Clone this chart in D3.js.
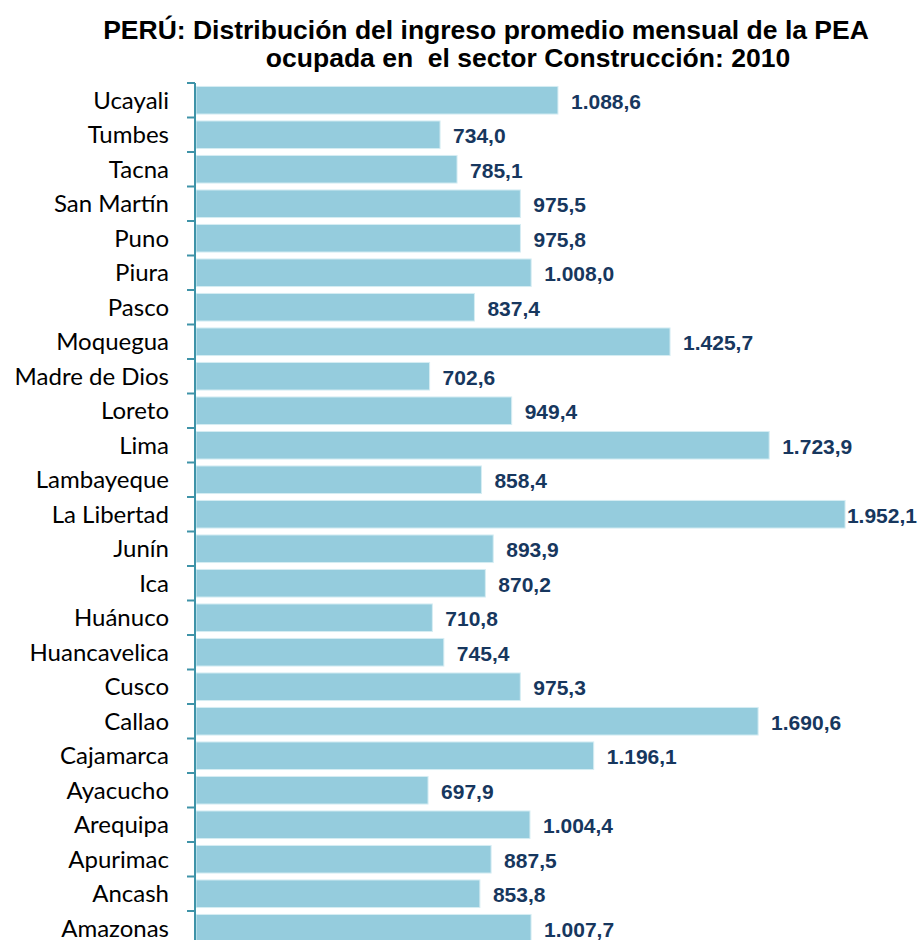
<!DOCTYPE html>
<html>
<head>
<meta charset="utf-8">
<script src="https://cdn.jsdelivr.net/npm/d3@7"></script>
<style>
  body { margin: 0; background: #fff; }
</style>
</head>
<body>
<div id="chart"></div>
<script>
const WIDTH = 918;
const HEIGHT = 940;

// Datos: ingreso promedio mensual por región (de arriba hacia abajo)
const regiones = ["Ucayali", "Tumbes", "Tacna", "San Martín", "Puno", "Piura", "Pasco",
  "Moquegua", "Madre de Dios", "Loreto", "Lima", "Lambayeque", "La Libertad", "Junín",
  "Ica", "Huánuco", "Huancavelica", "Cusco", "Callao", "Cajamarca", "Ayacucho",
  "Arequipa", "Apurimac", "Ancash", "Amazonas"];
const ingresos = [1088.6, 734.0, 785.1, 975.5, 975.8, 1008.0, 837.4,
  1425.7, 702.6, 949.4, 1723.9, 858.4, 1952.1, 893.9,
  870.2, 710.8, 745.4, 975.3, 1690.6, 1196.1, 697.9,
  1004.4, 887.5, 853.8, 1007.7];
const titulo = ["PERÚ: Distribución del ingreso promedio mensual de la PEA",
  "ocupada en  el sector Construcción: 2010"];

const datos = regiones.map((r, i) => ({ region: r, valor: ingresos[i] }));

const svg = d3.select("#chart")
  .append("svg")
  .attr("width", WIDTH)
  .attr("height", HEIGHT);

// TITULO
svg.selectAll(".titulo")
  .data(titulo)
  .join("text")
  .attr("class", "titulo")
  .attr("x", (d, i) => i == 0 ? 486 : 528)
  .attr("y", (d, i) => 39 + i * 28)
  .attr("text-anchor", "middle")
  .style("font-family", "'Liberation Sans', Arial, sans-serif")
  .style("font-weight", "bold")
  .style("font-size", "26.5px")
  .style("white-space", "pre")
  .attr("fill", "#000")
  .text(d => d);

// ESCALAS
const escalaX = d3.scaleLinear()
  .domain([0, 2000])
  .range([196, 861]);

const escalaY = d3.scaleBand()
  .domain(regiones)
  .range([83, 83 + 25 * 34.5])
  .paddingInner(0.2)
  .paddingOuter(0.1);

// BARRAS
svg.selectAll(".barra")
  .data(datos)
  .join("rect")
  .attr("class", "barra")
  .attr("x", escalaX(0))
  .attr("y", d => escalaY(d.region))
  .attr("width", d => escalaX(d.valor) - escalaX(0))
  .attr("height", escalaY.bandwidth())
  .attr("fill", "#95CCDD")
  .attr("stroke", "#d6edf3")
  .attr("stroke-width", 1);

// EJE Y
const ejeY = svg.append("g")
  .attr("transform", `translate(${escalaX(0) - 1}, 0)`);

ejeY.append("line")
  .attr("x1", 0).attr("x2", 0)
  .attr("y1", escalaY.range()[0])
  .attr("y2", HEIGHT)
  .attr("stroke", "#3f93a8")
  .attr("stroke-width", 2);

const paso = escalaY.step();
ejeY.selectAll(".tick")
  .data(regiones)
  .join("line")
  .attr("class", "tick")
  .attr("x1", -8).attr("x2", 0)
  .attr("y1", d => escalaY(d) - paso * 0.1)
  .attr("y2", d => escalaY(d) - paso * 0.1)
  .attr("stroke", "#3f93a8")
  .attr("stroke-width", 2);

// ETIQUETAS REGIONES
svg.selectAll(".region")
  .data(datos)
  .join("text")
  .attr("class", "region")
  .attr("x", 169)
  .attr("y", d => escalaY(d.region) + escalaY.bandwidth() / 2)
  .attr("dy", "0.35em")
  .attr("text-anchor", "end")
  .style("font-family", "Lato, 'Open Sans', sans-serif")
  .style("font-size", "24px")
  .attr("fill", "#000")
  .text(d => d.region);

// ETIQUETAS VALORES
const formato = v => {
  const partes = v.toFixed(1).split(".");
  const entero = partes[0].replace(/\B(?=(\d{3})+(?!\d))/g, ".");
  return entero + "," + partes[1];
};

svg.selectAll(".valor")
  .data(datos)
  .join("text")
  .attr("class", "valor")
  .attr("y", d => escalaY(d.region) + escalaY.bandwidth() / 2 + 1)
  .attr("dy", "0.35em")
  .style("font-family", "'Liberation Sans', Arial, sans-serif")
  .style("font-weight", "bold")
  .style("font-size", "21px")
  .attr("fill", "#17375E")
  .text(d => formato(d.valor))
  .attr("x", function (d) {
    // que no se salga del borde derecho
    const ancho = this.getComputedTextLength();
    return Math.min(escalaX(d.valor) + 13, WIDTH - ancho - 1);
  });
</script>
</body>
</html>
